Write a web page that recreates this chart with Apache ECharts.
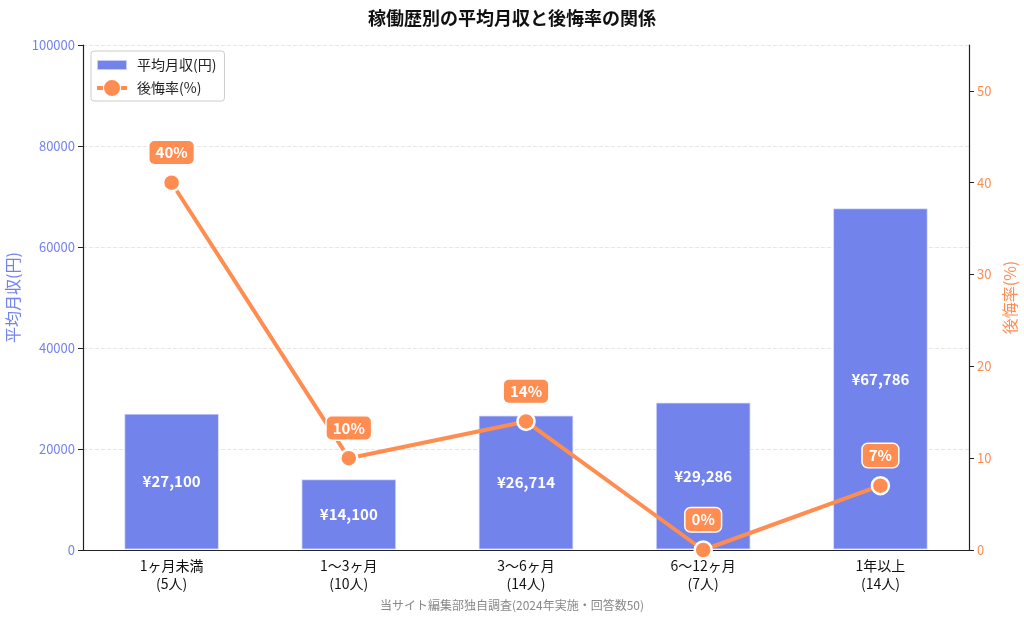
<!DOCTYPE html>
<html>
<head>
<meta charset="utf-8">
<script src="https://cdn.jsdelivr.net/npm/echarts@6/dist/echarts.min.js"></script>
<style>
  html, body { margin: 0; padding: 0; background: #fff; }
  #chart { width: 1024px; height: 624px; }
</style>
</head>
<body>
<div id="chart"></div>
<script>
const categories = ['1ヶ月未満\n(5人)', '1〜3ヶ月\n(10人)', '3〜6ヶ月\n(14人)', '6〜12ヶ月\n(7人)', '1年以上\n(14人)'];
const incomeValues = [27100, 14100, 26714, 29286, 67786];
const regretRates = [40, 10, 14, 0, 7];

const blue = '#7383EC';
const orange = '#FF8C50';
const font = '"Noto Sans CJK JP", "Noto Sans", sans-serif';

// legend icons share a 30x16 box so the bar swatch stays thin and the marker stays big
const barIcon = 'path://M0 3h30v10h-30z M0 0h0.01v0.01h-0.01z M30 16h-0.01v-0.01h0.01z';
const lineIcon = 'path://M0 6h6v4h-6z M24 6h6v4h-6z M7 8A8 8 0 1 0 23 8A8 8 0 1 0 7 8z';

const chart = echarts.init(document.getElementById('chart'));

chart.setOption({
  textStyle: { fontFamily: font },
  title: {
    text: '稼働歴別の平均月収と後悔率の関係',
    left: 'center',
    top: 4,
    textStyle: { fontSize: 18, fontWeight: 'bold', color: '#111', fontFamily: font }
  },
  legend: {
    left: 91,
    top: 51,
    orient: 'vertical',
    backgroundColor: '#fff',
    borderColor: '#ccc',
    borderWidth: 1,
    borderRadius: 3,
    padding: [5, 8, 5, 5],
    itemGap: 6,
    itemWidth: 30,
    itemHeight: 16,
    textStyle: { fontSize: 14, color: '#222', fontFamily: font, padding: [0, 0, 0, 5] },
    data: [
      { name: '平均月収(円)', icon: barIcon },
      { name: '後悔率(%)', icon: lineIcon, itemStyle: { borderWidth: 0 } }
    ]
  },
  grid: { left: 83, right: 55, top: 45, bottom: 74, outerBoundsMode: 'none' },
  xAxis: {
    type: 'category',
    data: categories,
    axisLine: { lineStyle: { color: '#222', width: 1.2 } },
    axisTick: { alignWithLabel: true, lineStyle: { color: '#222' } },
    axisLabel: { color: '#111', fontSize: 14, lineHeight: 18, margin: 7, fontFamily: font }
  },
  yAxis: [
    {
      type: 'value',
      min: 0,
      max: 100000,
      interval: 20000,
      name: '平均月収(円)',
      nameLocation: 'middle',
      nameGap: 57,
      nameTextStyle: { color: blue, fontSize: 16, fontFamily: font },
      axisLine: { show: true, lineStyle: { color: '#222', width: 1.2 } },
      axisTick: { show: true, lineStyle: { color: '#222' } },
      axisLabel: { color: blue, fontSize: 13, fontFamily: font, formatter: v => String(v) },
      splitLine: { show: true, lineStyle: { color: '#e6e6e6', type: 'dashed' } }
    },
    {
      type: 'value',
      min: 0,
      max: 55,
      interval: 10,
      name: '後悔率(%)',
      nameLocation: 'middle',
      nameGap: 30,
      nameRotate: 90,
      nameTextStyle: { color: orange, fontSize: 16, fontFamily: font },
      axisLine: { show: true, lineStyle: { color: '#222', width: 1.2 } },
      axisTick: { show: true, lineStyle: { color: '#222' } },
      axisLabel: { color: orange, fontSize: 13, fontFamily: font, showMaxLabel: false },
      splitLine: { show: false }
    }
  ],
  series: [
    {
      name: '平均月収(円)',
      type: 'bar',
      data: incomeValues,
      barWidth: '54%',
      itemStyle: { color: blue, borderColor: 'rgba(255,255,255,0.6)', borderWidth: 1.5 },
      label: {
        show: true,
        position: 'inside',
        color: '#fff',
        fontSize: 15,
        fontWeight: 'bold',
        fontFamily: font,
        formatter: p => '¥' + p.value.toLocaleString('en-US')
      },
      z: 2
    },
    {
      name: '後悔率(%)',
      type: 'line',
      yAxisIndex: 1,
      data: regretRates,
      symbol: 'circle',
      symbolSize: 17,
      lineStyle: { color: orange, width: 4 },
      itemStyle: { color: orange, borderColor: '#fff', borderWidth: 2.5 },
      label: {
        show: true,
        position: 'top',
        distance: 9,
        formatter: '{c}%',
        color: '#fff',
        fontSize: 15,
        fontWeight: 'bold',
        fontFamily: font,
        backgroundColor: orange,
        borderColor: '#fff',
        borderWidth: 1.5,
        borderRadius: 5,
        padding: [4, 6]
      },
      z: 5
    }
  ],
  graphic: [
    {
      type: 'text',
      left: 'center',
      top: 599,
      style: {
        text: '当サイト編集部独自調査(2024年実施・回答数50)',
        fill: '#888',
        fontSize: 12,
        fontFamily: font
      }
    }
  ]
});
</script>
</body>
</html>
